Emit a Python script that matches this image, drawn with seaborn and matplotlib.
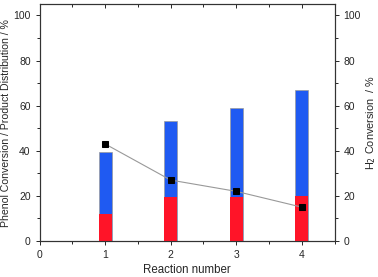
import numpy as np
import pandas as pd
import seaborn as sns
import matplotlib.pyplot as plt
from matplotlib.ticker import MultipleLocator

# values
reactions = [1, 2, 3, 4]
phenol_conversion = [39.5, 53, 59, 67]
red_part = [12, 19.3, 19.3, 19.8]
h2_conversion = [43, 27, 22, 15]

sns.set_style('ticks')
plt.rcParams['font.family'] = ['Liberation Sans', 'DejaVu Sans']
plt.rcParams['font.size'] = 7.5

df = pd.DataFrame({'reaction': reactions, 'total': phenol_conversion,
                   'red': red_part, 'h2': h2_conversion})

fig, ax = plt.subplots(figsize=(3.78, 2.77), dpi=100)
fig.subplots_adjust(left=0.105, right=0.885, top=0.985, bottom=0.13)

ax.bar(df['reaction'], df['total'], width=0.2, color='#1f5af2',
       edgecolor='#9a9a9a', linewidth=0.5, zorder=2)
ax.bar(df['reaction'], df['red'], width=0.2, color='#ff1428',
       edgecolor='none', zorder=3)

ax.set_xlim(0, 4.5)
ax.set_ylim(0, 105)
ax.xaxis.set_major_locator(MultipleLocator(1))
ax.xaxis.set_minor_locator(MultipleLocator(0.5))
ax.yaxis.set_major_locator(MultipleLocator(20))
ax.yaxis.set_minor_locator(MultipleLocator(10))
ax.tick_params(which='both', direction='out', width=0.7)
ax.tick_params(which='major', length=3)
ax.tick_params(which='minor', length=2)
ax.set_xlabel('Reaction number', fontsize=8.3, labelpad=3)
ax.set_ylabel('Phenol Conversion / Product Distribution / %', fontsize=7.6,
              labelpad=1.5)
for s in ax.spines.values():
    s.set_linewidth(0.8)
    s.set_color('#333333')

# inward ticks on the top spine, no labels
top = ax.secondary_xaxis('top')
top.xaxis.set_major_locator(MultipleLocator(1))
top.xaxis.set_minor_locator(MultipleLocator(0.5))
top.tick_params(which='both', direction='in', labeltop=False, width=0.7)
top.tick_params(which='major', length=3)
top.tick_params(which='minor', length=2)
top.spines['top'].set_visible(False)

ax2 = ax.twinx()
sns.lineplot(data=df, x='reaction', y='h2', ax=ax2, color='#999999',
             linewidth=0.8, marker='s', markersize=4, markerfacecolor='black',
             markeredgecolor='black', zorder=5)
ax2.set_ylim(0, 105)
ax2.yaxis.set_major_locator(MultipleLocator(20))
ax2.yaxis.set_minor_locator(MultipleLocator(10))
ax2.tick_params(which='both', direction='out', width=0.7)
ax2.tick_params(which='major', length=3)
ax2.tick_params(which='minor', length=2)
ax2.set_ylabel('H$_2$ Conversion  / %', fontsize=7.8, labelpad=2)
ax2.set_xlabel('')
for s in ax2.spines.values():
    s.set_linewidth(0.8)
    s.set_color('#333333')

fig.savefig('out.png', dpi=100)
